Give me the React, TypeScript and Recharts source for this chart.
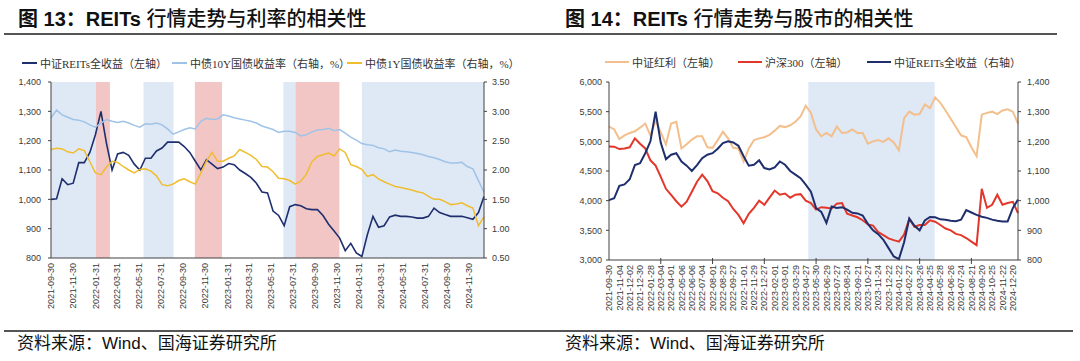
import React from 'react';
import { LineChart, Line, XAxis, YAxis, ReferenceArea } from 'recharts';

// ---------- 图13: REITs vs 利率 ----------
const start13 = '2021-09-30';
const end13 = '2025-01-10';
const ticks13 = [
  '2021-09-30', '2021-11-30', '2022-01-31', '2022-03-31', '2022-05-31', '2022-07-31',
  '2022-09-30', '2022-11-30', '2023-01-31', '2023-03-31', '2023-05-31', '2023-07-31',
  '2023-09-30', '2023-11-30', '2024-01-31', '2024-03-31', '2024-05-31', '2024-07-31',
  '2024-09-30', '2024-11-30',
];
// roughly half-monthly readings
const reits13 = [
  1000, 1002, 1070, 1050, 1055, 1125, 1125, 1160, 1220, 1300,
  1190, 1100, 1155, 1160, 1150, 1120, 1100, 1140, 1140, 1165,
  1175, 1195, 1195, 1195, 1180, 1160, 1130, 1100, 1135, 1120,
  1105, 1110, 1122, 1118, 1100, 1088, 1075, 1055, 1025, 1022,
  960, 945, 910, 975, 982, 978, 968, 965, 965, 945,
  915, 892, 868, 825, 850, 817, 805, 880, 942, 905,
  910, 940, 946, 942, 942, 940, 936, 936, 942, 970,
  955, 948, 942, 942, 942, 937, 932, 955, 1010,
];
const cgb10y = [
  2.89, 3.02, 2.94, 2.90, 2.86, 2.85, 2.82, 2.77, 2.73, 2.80,
  2.86, 2.83, 2.81, 2.83, 2.80, 2.76, 2.73, 2.79, 2.78, 2.80,
  2.77, 2.70, 2.61, 2.65, 2.69, 2.72, 2.70, 2.83, 2.88, 2.86,
  2.87, 2.94, 2.92, 2.89, 2.87, 2.85, 2.83, 2.80, 2.75, 2.72,
  2.69, 2.64, 2.66, 2.66, 2.64, 2.58, 2.60, 2.65, 2.68, 2.69,
  2.71, 2.67, 2.69, 2.63, 2.56, 2.51, 2.45, 2.43, 2.42, 2.38,
  2.36, 2.31, 2.34, 2.32, 2.31, 2.30, 2.28, 2.26, 2.23, 2.21,
  2.18, 2.14, 2.12, 2.12, 2.13, 2.06, 2.02, 1.82, 1.62,
];
const cgb1y = [
  2.35, 2.37, 2.36, 2.31, 2.29, 2.36, 2.33, 2.14, 1.95, 1.92,
  2.05, 2.15, 2.13, 2.06, 2.00, 1.95, 2.01, 2.02, 1.98, 1.90,
  1.75, 1.73, 1.76, 1.82, 1.85, 1.80, 1.76, 1.95, 2.15, 2.30,
  2.15, 2.15, 2.20, 2.24, 2.35, 2.30, 2.25, 2.18, 2.06, 2.05,
  1.97, 1.86, 1.85, 1.82, 1.76, 1.81, 1.93, 2.14, 2.23, 2.26,
  2.29, 2.24, 2.36, 2.30, 2.09, 2.06, 2.01, 1.89, 1.92, 1.85,
  1.80, 1.76, 1.72, 1.70, 1.68, 1.66, 1.63, 1.61, 1.55, 1.50,
  1.50, 1.46, 1.41, 1.42, 1.44, 1.39, 1.35, 1.05, 1.20,
];
// shaded periods: b = 宽松(blue), r = 收紧(red)
const bands13 = [
  { from: '2021-09-30', to: '2022-02-01', kind: 'b' },
  { from: '2022-02-01', to: '2022-03-12', kind: 'r' },
  { from: '2022-06-13', to: '2022-09-04', kind: 'b' },
  { from: '2022-11-02', to: '2023-01-16', kind: 'r' },
  { from: '2023-07-05', to: '2023-08-07', kind: 'b' },
  { from: '2023-08-07', to: '2023-12-07', kind: 'r' },
  { from: '2024-02-07', to: '2025-01-10', kind: 'b' },
];

// ---------- 图14: REITs vs 股市 (x = trading-day index) ----------
const ticks14 = [
  '2021-09-30', '2021-11-04', '2021-12-02', '2021-12-30', '2022-01-28', '2022-03-04',
  '2022-04-01', '2022-05-06', '2022-06-06', '2022-07-04', '2022-08-01', '2022-08-29',
  '2022-09-27', '2022-11-01', '2022-11-29', '2022-12-27', '2023-02-01', '2023-03-01',
  '2023-03-29', '2023-04-27', '2023-05-30', '2023-06-29', '2023-07-27', '2023-08-24',
  '2023-09-21', '2023-10-27', '2023-11-24', '2023-12-22', '2024-01-22', '2024-02-27',
  '2024-03-26', '2024-04-25', '2024-05-28', '2024-06-26', '2024-07-24', '2024-08-21',
  '2024-09-20', '2024-10-25', '2024-11-22', '2024-12-20',
];
const dividend14 = [
  5250, 5200, 5040, 5100, 5140, 5170, 5230, 5300, 5100, 5350,
  5150, 4950, 5300, 5330, 4880, 4950, 5030, 5085, 5085, 4900,
  4890, 5020, 5160, 5050, 4890, 4880, 4660, 4880, 5020, 5050,
  5070, 5110, 5180, 5260, 5240, 5270, 5330, 5420, 5600, 5480,
  5200, 5085, 5140, 5085, 5250, 5140, 5150, 5200, 5141, 5141,
  4960, 5000, 5020, 4990, 5050, 4980, 4850, 5390, 5500, 5450,
  5460, 5620, 5560, 5740, 5650, 5520, 5380, 5240, 5100, 5070,
  4900, 4750, 5450, 5480, 5500, 5460, 5520, 5540, 5500, 5300,
];
const hs300 = [
  4915, 4910, 4870, 4880, 4900, 5050, 4960, 4880, 4680, 4590,
  4400, 4200, 4096, 3990, 3900, 3983, 4150, 4320, 4440, 4330,
  4160, 4125, 4050, 3990, 3860, 3760, 3620, 3780, 3880, 4000,
  3930, 4050, 4170, 4100, 4120, 4050, 4100, 4110, 4000, 3960,
  3850, 3890, 3880, 3870, 3950, 3960, 3780, 3750, 3720, 3670,
  3600, 3580, 3470, 3420, 3365, 3335, 3310, 3430, 3690, 3560,
  3590, 3590, 3670, 3645, 3590, 3530, 3500, 3440, 3420, 3370,
  3310, 3250, 4200, 3880, 3930, 4100, 3930, 3960, 3980, 3790,
];
const reits14 = [
  1002, 1008, 1050, 1055, 1072, 1120, 1126, 1160, 1200, 1300,
  1195, 1140, 1155, 1160, 1132, 1118, 1100, 1120, 1143, 1155,
  1160, 1175, 1194, 1200, 1196, 1185, 1150, 1118, 1121, 1136,
  1110, 1105, 1112, 1132, 1121, 1100, 1088, 1076, 1054, 1030,
  975, 962, 925, 980, 975, 978, 970, 959, 957, 950,
  922, 900, 887, 868, 840, 812, 803, 860, 940, 915,
  900, 933, 945, 944, 937, 936, 932, 931, 936, 968,
  960, 952, 946, 942, 936, 932, 930, 930, 975, 1004,
];
const bands14 = [{ from: 385, to: 629 }];

const DAY = 86400000;
const dayOf = (s: string) => (Date.parse(s) - Date.parse(start13)) / DAY;
const span13 = dayOf(end13);
const data13 = reits13.map((v, i) => ({
  d: (i * span13) / (reits13.length - 1),
  reits: v,
  y10: cgb10y[i],
  y1: cgb1y[i],
}));
const tickDays13 = ticks13.map(dayOf);
const label13 = new Map(tickDays13.map((d, i) => [d, ticks13[i]]));

const STEP14 = 10; // trading days between readings
const LABEL_STEP14 = 20;
const data14 = dividend14.map((v, i) => ({
  t: i * STEP14,
  div: v,
  hs: hs300[i],
  reits: reits14[i],
}));
const tickIdx14 = ticks14.map((_, i) => i * LABEL_STEP14);

const NAVY = '#1f2f6e';
const LIGHT_BLUE = '#9fc3e7';
const GOLD = '#efbd2e';
const TAN = '#f3bf8c';
const RED = '#e2372a';
const SHADE_BLUE = '#dfe8f5';
const SHADE_RED = '#f3c6c6';
const AXIS = '#404040';
const TICK_TXT = '#3a3a3a';
const SANS = '"Liberation Sans", Arial, "Noto Sans CJK SC", sans-serif';
const LEGEND_FONT = '"Liberation Serif", "Noto Sans CJK SC", serif';

const fmtThousands = (v: number) => v.toLocaleString('en-US');

const RotTick = (props: any) => {
  const { x, y, payload, getLabel, majorEvery } = props;
  const isMajor = majorEvery && payload.value > 0 && payload.value % majorEvery === 0;
  return (
    <g>
      {isMajor && <line x1={x} x2={x} y1={y - 7} y2={y - 1} stroke={AXIS} strokeWidth={1} />}
      <text
        transform={`translate(${x},${y}) rotate(-90)`}
        textAnchor="end"
        dy="0.35em"
        fontSize={9}
        fill={TICK_TXT}
        fontFamily={SANS}
      >
        {getLabel(payload.value)}
      </text>
    </g>
  );
};

const Legend = ({ items, top, lineW }: { items: { name: string; color: string; x: number }[]; top: number; lineW: number }) => (
  <>
    {items.map((it) => (
      <div
        key={it.name}
        style={{
          position: 'absolute',
          left: it.x,
          top: top - 8,
          height: 16,
          display: 'flex',
          alignItems: 'center',
          fontSize: 11,
          fontFamily: LEGEND_FONT,
          color: '#333',
          whiteSpace: 'nowrap',
        }}
      >
        <span style={{ display: 'inline-block', width: lineW, height: 2, background: it.color, marginRight: 3 }} />
        {it.name}
      </div>
    ))}
  </>
);

const Title = ({ x, num, rest }: { x: number; num: string; rest: string }) => (
  <div
    style={{
      position: 'absolute',
      left: x,
      top: 6,
      lineHeight: '24px',
      fontSize: 20,
      fontFamily: SANS,
      color: '#111',
      whiteSpace: 'nowrap',
    }}
  >
    <span style={{ fontWeight: 'bold' }}>{num}</span>
    <span style={{ fontWeight: 500, fontFamily: '"Noto Sans CJK SC", sans-serif' }}>{rest}</span>
  </div>
);

const Source = ({ x }: { x: number }) => (
  <div
    style={{
      position: 'absolute',
      left: x,
      top: 333,
      lineHeight: '22px',
      fontSize: 17,
      fontFamily: '"Liberation Sans", Arial, "Noto Sans CJK SC", sans-serif',
      color: '#111',
      whiteSpace: 'nowrap',
    }}
  >
    资料来源：Wind、国海证券研究所
  </div>
);

export default function App() {
  return (
    <div style={{ position: 'relative', width: 1080, height: 361, background: '#fff', overflow: 'hidden' }}>
      <style>{'body{margin:0}'}</style>

      <Title x={18} num="图 13：REITs " rest="行情走势与利率的相关性" />
      <Title x={565} num="图 14：REITs " rest="行情走势与股市的相关性" />
      <div style={{ position: 'absolute', left: 4, top: 33, width: 1053, height: 2, background: '#555' }} />
      <div style={{ position: 'absolute', left: 4, top: 330, width: 1069, height: 1.5, background: '#555' }} />

      {/* 图13 */}
      <div style={{ position: 'absolute', left: 0, top: 0 }}>
        <LineChart width={540} height={330} data={data13} margin={{ top: 82, right: 16, left: 11, bottom: 12 }}>
          <XAxis
            dataKey="d"
            type="number"
            domain={[0, span13]}
            ticks={tickDays13}
            interval={0}
            height={60}
            tickSize={0}
            tickMargin={5}
            stroke={AXIS}
            tick={(p: any) => <RotTick {...p} getLabel={(v: number) => label13.get(v) ?? ''} />}
          />
          <YAxis
            yAxisId="l"
            width={40}
            domain={[800, 1400]}
            ticks={[800, 900, 1000, 1100, 1200, 1300, 1400]}
            tickFormatter={fmtThousands}
            stroke={AXIS}
            tickSize={3}
            tickMargin={7}
            tick={{ fontSize: 9, fill: TICK_TXT, fontFamily: SANS }}
          />
          <YAxis
            yAxisId="r"
            orientation="right"
            width={40}
            domain={[0.5, 3.5]}
            ticks={[0.5, 1, 1.5, 2, 2.5, 3, 3.5]}
            tickFormatter={(v: number) => v.toFixed(2)}
            stroke={AXIS}
            tickSize={3}
            tickMargin={5}
            tick={{ fontSize: 9, fill: TICK_TXT, fontFamily: SANS }}
          />
          {bands13.map((b) => (
            <ReferenceArea
              key={b.from}
              yAxisId="l"
              x1={dayOf(b.from)}
              x2={dayOf(b.to)}
              y1={800}
              y2={1400}
              fill={b.kind === 'b' ? SHADE_BLUE : SHADE_RED}
              fillOpacity={1}
              stroke="none"
            />
          ))}
          <Line yAxisId="l" dataKey="reits" stroke={NAVY} strokeWidth={1.6} dot={false} isAnimationActive={false} />
          <Line yAxisId="r" dataKey="y10" stroke={LIGHT_BLUE} strokeWidth={1.5} dot={false} isAnimationActive={false} />
          <Line yAxisId="r" dataKey="y1" stroke={GOLD} strokeWidth={1.5} dot={false} isAnimationActive={false} />
        </LineChart>
      </div>
      <Legend
        top={63}
        lineW={15}
        items={[
          { name: '中证REITs全收益（左轴）', color: NAVY, x: 22 },
          { name: '中债10Y国债收益率（右轴，%）', color: LIGHT_BLUE, x: 172 },
          { name: '中债1Y国债收益率（右轴，%）', color: GOLD, x: 347 },
        ]}
      />

      {/* 图14 */}
      <div style={{ position: 'absolute', left: 540, top: 0 }}>
        <LineChart width={540} height={330} data={data14} margin={{ top: 82, right: 17, left: 24, bottom: 10 }}>
          <XAxis
            dataKey="t"
            type="number"
            domain={[0, 790]}
            ticks={tickIdx14}
            interval={0}
            height={60}
            tickSize={0}
            tickMargin={5}
            stroke={AXIS}
            tick={(p: any) => (
              <RotTick {...p} majorEvery={100} getLabel={(v: number) => ticks14[v / LABEL_STEP14] ?? ''} />
            )}
          />
          <YAxis
            yAxisId="l"
            width={45}
            domain={[3000, 6000]}
            ticks={[3000, 3500, 4000, 4500, 5000, 5500, 6000]}
            tickFormatter={fmtThousands}
            stroke={AXIS}
            tickSize={3}
            tickMargin={4}
            tick={{ fontSize: 9, fill: TICK_TXT, fontFamily: SANS }}
          />
          <YAxis
            yAxisId="r"
            orientation="right"
            width={45}
            domain={[800, 1400]}
            ticks={[800, 900, 1000, 1100, 1200, 1300, 1400]}
            tickFormatter={fmtThousands}
            stroke={AXIS}
            tickSize={3}
            tickMargin={6}
            tick={{ fontSize: 9, fill: TICK_TXT, fontFamily: SANS }}
          />
          {bands14.map((b) => (
            <ReferenceArea
              key={b.from}
              yAxisId="l"
              x1={b.from}
              x2={b.to}
              y1={3000}
              y2={6000}
              fill={SHADE_BLUE}
              fillOpacity={1}
              stroke="none"
            />
          ))}
          <Line yAxisId="l" dataKey="div" stroke={TAN} strokeWidth={2} dot={false} isAnimationActive={false} />
          <Line yAxisId="l" dataKey="hs" stroke={RED} strokeWidth={2} dot={false} isAnimationActive={false} />
          <Line yAxisId="r" dataKey="reits" stroke={NAVY} strokeWidth={2} dot={false} isAnimationActive={false} />
        </LineChart>
      </div>
      <Legend
        top={62}
        lineW={24}
        items={[
          { name: '中证红利（左轴）', color: TAN, x: 605 },
          { name: '沪深300（左轴）', color: RED, x: 738 },
          { name: '中证REITs全收益（右轴）', color: NAVY, x: 867 },
        ]}
      />

      <Source x={17} />
      <Source x={565} />
    </div>
  );
}
